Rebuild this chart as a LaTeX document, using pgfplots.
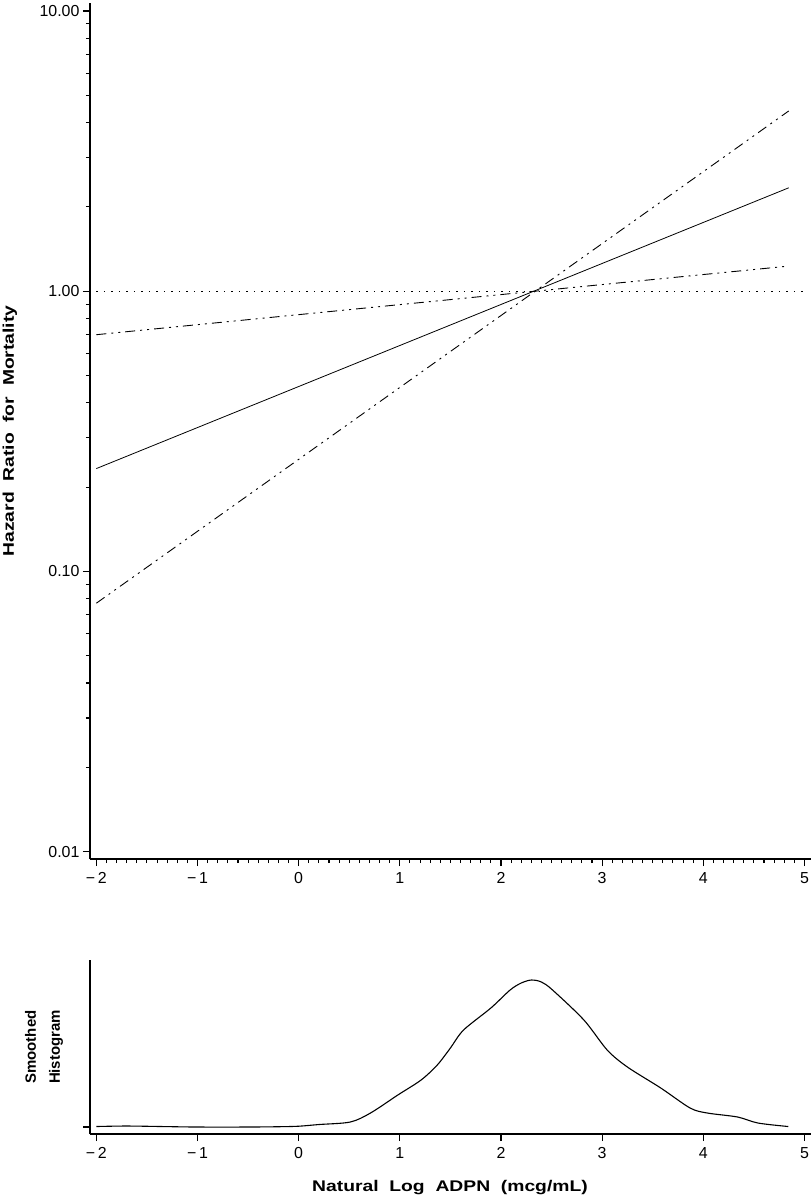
\documentclass[border=0pt]{standalone}
\usepackage{pgfplots}
\pgfplotsset{compat=1.18}
\usepackage{fontspec}
\setmainfont{Liberation Sans}
\newfontfamily\lblfont[FakeStretch=1.25]{Liberation Sans}
\newfontfamily\tickfont{Liberation Sans}

\pgfplotstableread{
x d
-2.00 0.5
-1.70 1.0
-1.30 0.4
-1.00 0.0
-0.50 0.0
-0.20 0.3
0.00 0.8
0.20 2.5
0.51 5
0.71 14
0.98 32
1.21 47
1.37 62
1.50 79
1.63 97
1.90 119
2.09 137
2.20 144
2.30 147
2.40 145
2.51 137
2.82 107
3.05 77
3.25 60
3.58 39
3.87 19
4.04 14
4.34 10
4.54 4
4.84 0.5
}\density

\pgfplotsset{every tick label/.append style={font=\fontsize{16}{19}\tickfont}}

\begin{document}
\begin{tikzpicture}[x=1bp,y=1bp]
\useasboundingbox (0,0) rectangle (812,-1197);
\pgfplotsset{
  hrstyle/.style={
    scale only axis,
    axis x line*=bottom, axis y line*=left,
    axis line style={line width=1.5bp, black},
    tick align=outside,
    major tick length=7bp, minor tick length=4bp,
    every tick/.style={black, line width=1.1bp},
    xtick={-2,-1,0,1,2,3,4,5},
    xticklabels={−\,2,−\,1,0,1,2,3,4,5},
    xmin=-2.063, xmax=5.065,
    clip=false,
  }
}
\begin{axis}[hrstyle,
  at={(90bp,-859bp)}, anchor=south west,
  width=721bp, height=856bp,
  ymode=log, ymin=0.00942, ymax=10.68,
  minor x tick num=9,
  ytick={0.01,0.1,1,10}, yticklabels={0.01,0.10,1.00,10.00},
  minor ytick={0.02,0.03,0.04,0.05,0.06,0.07,0.08,0.09,0.2,0.3,0.4,0.5,0.6,0.7,0.8,0.9,2,3,4,5,6,7,8,9},
  xticklabel style={yshift=-3bp},
]
\addplot[black, line width=0.8bp, dash pattern=on 1.5bp off 6bp] coordinates {(-2,1) (5.0,1)};
\addplot[black, line width=0.8bp] coordinates {(-2,0.233) (4.845,2.34)};
\addplot[black, line width=0.9bp, dash pattern=on 10bp off 5bp on 2bp off 5bp on 2bp off 5bp] coordinates {(-2,0.0771) (4.845,4.40)};
\addplot[black, line width=0.9bp, dash pattern=on 10bp off 5bp on 2bp off 5bp on 2bp off 5bp] coordinates {(-2,0.700) (4.845,1.23)};
\end{axis}

\begin{axis}[hrstyle,
  at={(90bp,-1134bp)}, anchor=south west,
  width=721bp, height=174bp,
  ymin=-7, ymax=167,
  ytick={0}, yticklabels={},
  xticklabel style={yshift=-3bp},
]
\addplot[black, line width=1.1bp, smooth] table[x=x, y=d] {\density};
\end{axis}

\node[rotate=90, font={\fontsize{15.5}{18}\lblfont\bfseries}] at (10,-431) {Hazard\ \ Ratio\ \ for\ \ Mortality};
\node[font={\fontsize{15.5}{18}\lblfont\bfseries}] at (450,-1188) {Natural\ \ Log\ \ ADPN\ \ (mcg/mL)};
\node[rotate=90, align=center, inner sep=0pt, font={\fontsize{15}{24}\selectfont\bfseries}] at (44,-1047) {Smoothed\\Histogram};
\end{tikzpicture}
\end{document}
